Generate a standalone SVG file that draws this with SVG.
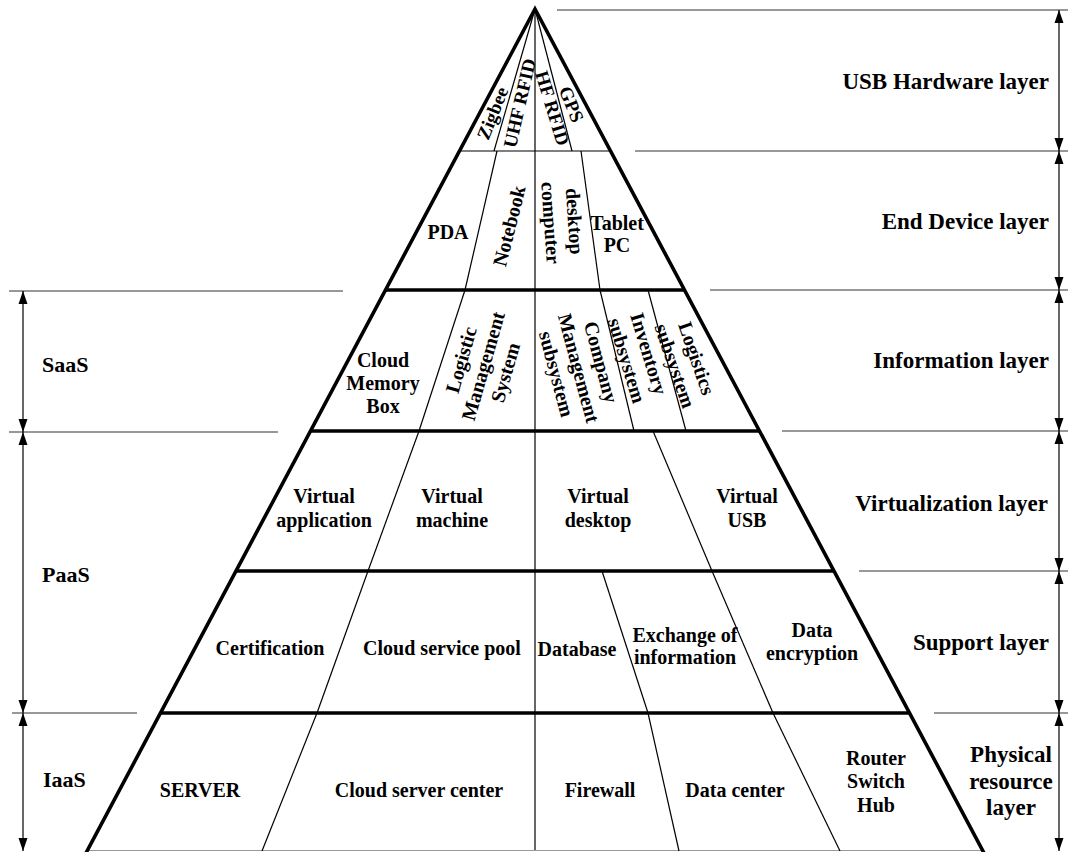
<svg xmlns="http://www.w3.org/2000/svg" width="1068" height="852" viewBox="0 0 1068 852">
<defs>
<style>
.t{font-family:"Liberation Serif","Times New Roman",serif;font-weight:bold;fill:#000}
.in{font-size:20px;text-anchor:middle}
.sm{font-size:19px;text-anchor:middle}
.rl{font-size:23px;text-anchor:end}
.rc{font-size:23px;text-anchor:middle}
.ll{font-size:22px}
.edge{stroke:#000;stroke-width:3.6;fill:none}
.thick{stroke:#000;stroke-width:3.6}
.thin{stroke:#000;stroke-width:1.2}
.guide{stroke:#333;stroke-width:1.2}
.arr{stroke:#000;stroke-width:1.2;marker-start:url(#ah);marker-end:url(#ah)}
</style>
<marker id="ah" markerUnits="userSpaceOnUse" markerWidth="14" markerHeight="10" refX="13" refY="5" orient="auto-start-reverse">
<path d="M0,0.5 L13,5 L0,9.5 z" fill="#000"/>
</marker>
</defs>
<rect width="1068" height="852" fill="#fff"/>

<g id="pyramid">
<line x1="86" y1="850.5" x2="983" y2="850.5" stroke="#999" stroke-width="1.2"/>
<line class="thin" x1="459" y1="151" x2="611" y2="151"/>
<line class="thick" x1="385" y1="290" x2="685" y2="290"/>
<line class="thick" x1="310" y1="431" x2="760" y2="431"/>
<line class="thick" x1="235" y1="571" x2="835" y2="571"/>
<line class="thick" x1="160" y1="713" x2="910" y2="713"/>
<path class="edge" d="M86,853 L535,9 L984,853"/>
</g>

<g id="connectors">
<!-- cell dividers -->
<line class="thin" x1="535" y1="9" x2="535" y2="850"/>
<line class="thin" x1="535" y1="9" x2="494" y2="151"/>
<line class="thin" x1="535" y1="9" x2="572" y2="151"/>
<line class="thin" x1="497" y1="151" x2="465" y2="290"/>
<line class="thin" x1="581" y1="151" x2="600" y2="290"/>
<line class="thin" x1="465" y1="290" x2="419" y2="431"/>
<line class="thin" x1="600" y1="290" x2="634" y2="431"/>
<line class="thin" x1="648" y1="290" x2="686" y2="431"/>
<line class="thin" x1="419" y1="431" x2="368" y2="571"/>
<line class="thin" x1="653" y1="431" x2="712" y2="571"/>
<line class="thin" x1="368" y1="571" x2="317" y2="713"/>
<line class="thin" x1="602" y1="571" x2="648" y2="713"/>
<line class="thin" x1="712" y1="571" x2="773" y2="713"/>
<line class="thin" x1="317" y1="713" x2="262" y2="851"/>
<line class="thin" x1="648" y1="713" x2="679" y2="851"/>
<line class="thin" x1="773" y1="713" x2="840" y2="851"/>
<!-- right guide lines -->
<line class="guide" x1="557" y1="10" x2="1068" y2="10"/>
<line class="guide" x1="635" y1="151" x2="1068" y2="151"/>
<line class="guide" x1="710" y1="290" x2="1068" y2="290"/>
<line class="guide" x1="782" y1="431" x2="1068" y2="431"/>
<line class="guide" x1="859" y1="571" x2="1068" y2="571"/>
<line class="guide" x1="934" y1="713" x2="1068" y2="713"/>
<!-- left guide lines -->
<line class="guide" x1="9" y1="291" x2="343" y2="291"/>
<line class="guide" x1="9" y1="432" x2="278" y2="432"/>
<line class="guide" x1="12" y1="713" x2="137" y2="713"/>
<!-- right arrows -->
<line class="arr" x1="1059" y1="10" x2="1059" y2="151"/>
<line class="arr" x1="1059" y1="151" x2="1059" y2="290"/>
<line class="arr" x1="1059" y1="290" x2="1059" y2="431"/>
<line class="arr" x1="1059" y1="431" x2="1059" y2="571"/>
<line class="arr" x1="1059" y1="571" x2="1059" y2="713"/>
<line class="arr" x1="1059" y1="713" x2="1059" y2="851"/>
<!-- left arrows -->
<line class="arr" x1="23" y1="291" x2="23" y2="432"/>
<line class="arr" x1="23" y1="432" x2="23" y2="713"/>
<line class="arr" x1="23" y1="713" x2="23" y2="851"/>
</g>

<!-- USB hardware layer cells -->
<g id="zigbee"><text class="t sm" transform="translate(492,113) rotate(-68)" y="7">Zigbee</text></g>
<g id="uhf-rfid"><text class="t sm" transform="translate(519,103) rotate(-77)" y="7">UHF RFID</text></g>
<g id="hf-rfid"><text class="t sm" transform="translate(553,108) rotate(73)" y="7">HF RFID</text></g>
<g id="gps"><text class="t sm" transform="translate(572,104) rotate(68)" y="7">GPS</text></g>

<!-- End device layer cells -->
<g id="pda"><text class="t in" x="448" y="239">PDA</text></g>
<g id="notebook"><text class="t in" transform="translate(509,226) rotate(-76)" y="7">Notebook</text></g>
<g id="desktop-computer"><text class="t in" transform="translate(563,222) rotate(86)"><tspan x="0" y="-5">desktop</tspan><tspan x="0" y="19">computer</tspan></text></g>
<g id="tablet-pc"><text class="t in"><tspan x="617" y="230">Tablet</tspan><tspan x="617" y="252">PC</tspan></text></g>

<!-- Information layer cells -->
<g id="cloud-memory-box"><text class="t in"><tspan x="383" y="367">Cloud</tspan><tspan x="383" y="390">Memory</tspan><tspan x="383" y="413">Box</tspan></text></g>
<g id="logistic-management-system"><text class="t in" transform="translate(483,366) rotate(-74)"><tspan x="0" y="-16">Logistic</tspan><tspan x="0" y="7">Management</tspan><tspan x="0" y="30">System</tspan></text></g>
<g id="company-management-subsystem"><text class="t in" transform="translate(579,368) rotate(75)"><tspan x="0" y="-16">Company</tspan><tspan x="0" y="7">Management</tspan><tspan x="0" y="30">subsystem</tspan></text></g>
<g id="inventory-subsystem"><text class="t in" transform="translate(638,357) rotate(73)"><tspan x="0" y="-4.5">Inventory</tspan><tspan x="0" y="18.5">subsystem</tspan></text></g>
<g id="logistics-subsystem"><text class="t in" transform="translate(686,362) rotate(71)"><tspan x="0" y="-4.5">Logistics</tspan><tspan x="0" y="18.5">subsystem</tspan></text></g>

<!-- Virtualization layer cells -->
<g id="virtual-application"><text class="t in"><tspan x="324" y="503">Virtual</tspan><tspan x="324" y="527">application</tspan></text></g>
<g id="virtual-machine"><text class="t in"><tspan x="452" y="503">Virtual</tspan><tspan x="452" y="527">machine</tspan></text></g>
<g id="virtual-desktop"><text class="t in"><tspan x="598" y="503">Virtual</tspan><tspan x="598" y="527">desktop</tspan></text></g>
<g id="virtual-usb"><text class="t in"><tspan x="747" y="503">Virtual</tspan><tspan x="747" y="527">USB</tspan></text></g>

<!-- Support layer cells -->
<g id="certification"><text class="t in" x="270" y="655">Certification</text></g>
<g id="cloud-service-pool"><text class="t in" x="442" y="655">Cloud service pool</text></g>
<g id="database"><text class="t in" x="577" y="656">Database</text></g>
<g id="exchange-of-information"><text class="t in"><tspan x="685" y="642">Exchange of</tspan><tspan x="685" y="664">information</tspan></text></g>
<g id="data-encryption"><text class="t in"><tspan x="812" y="637">Data</tspan><tspan x="812" y="660">encryption</tspan></text></g>

<!-- Physical resource layer cells -->
<g id="server"><text class="t in" x="200" y="797">SERVER</text></g>
<g id="cloud-server-center"><text class="t in" x="419" y="797">Cloud server center</text></g>
<g id="firewall"><text class="t in" x="600" y="797">Firewall</text></g>
<g id="data-center"><text class="t in" x="735" y="797">Data center</text></g>
<g id="router-switch-hub"><text class="t in"><tspan x="876" y="765">Router</tspan><tspan x="876" y="788">Switch</tspan><tspan x="876" y="812">Hub</tspan></text></g>

<!-- Right layer labels -->
<g id="usb-hardware-layer"><text class="t rl" x="1049" y="89">USB Hardware layer</text></g>
<g id="end-device-layer"><text class="t rl" x="1049" y="229">End Device layer</text></g>
<g id="information-layer"><text class="t rl" x="1049" y="368">Information layer</text></g>
<g id="virtualization-layer"><text class="t rl" x="1048" y="511">Virtualization layer</text></g>
<g id="support-layer"><text class="t rl" x="1049" y="650">Support layer</text></g>
<g id="physical-resource-layer"><text class="t rc"><tspan x="1011" y="762">Physical</tspan><tspan x="1011" y="789">resource</tspan><tspan x="1011" y="815">layer</tspan></text></g>

<!-- Left service labels -->
<g id="saas"><text class="t ll" x="42" y="372">SaaS</text></g>
<g id="paas"><text class="t ll" x="42" y="582">PaaS</text></g>
<g id="iaas"><text class="t ll" x="43" y="787">IaaS</text></g>
</svg>
